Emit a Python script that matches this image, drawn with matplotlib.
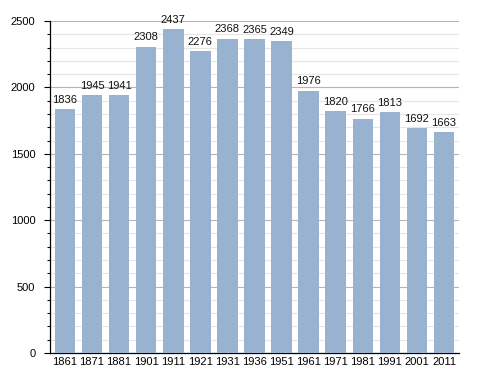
import matplotlib
matplotlib.use('Agg')
import matplotlib.pyplot as plt
import numpy as np

years = ['1861', '1871', '1881', '1901', '1911', '1921', '1931', '1936',
         '1951', '1961', '1971', '1981', '1991', '2001', '2011']
population = [1836, 1945, 1941, 2308, 2437, 2276, 2368, 2365,
              2349, 1976, 1820, 1766, 1813, 1692, 1663]

plt.rcParams['font.family'] = ['Liberation Sans', 'DejaVu Sans']

fig = plt.figure(figsize=(4.88, 3.73), dpi=100)
ax = fig.add_axes([0.1025, 0.0536, 0.838, 0.89])

x = np.arange(len(years))
ax.bar(x, population, width=0.76, color='#98b2cf', zorder=3)
for xi, v in zip(x, population):
    ax.annotate(str(v), (xi, v), xytext=(0, 3), textcoords='offset points',
                ha='center', va='bottom', fontsize=8, color='#111111')

ax.set_xlim(-0.55, len(years) - 0.45)
ax.set_ylim(0, 2500)
ax.set_xticks(x)
ax.set_xticklabels(years, fontsize=8)
ax.set_yticks(range(0, 2501, 500))
ax.set_yticks(range(0, 2501, 100), minor=True)
ax.tick_params(axis='y', labelsize=8, length=4.5, width=0.8, pad=6)
ax.tick_params(axis='y', which='minor', length=2, width=0.8)
ax.tick_params(axis='x', length=0, pad=3)

ax.grid(axis='y', which='minor', color='#e6e6e6', lw=0.8, zorder=0)
ax.grid(axis='y', which='major', color='#b5b5b5', lw=0.8, zorder=0)
for s in ['top', 'right']:
    ax.spines[s].set_visible(False)
ax.spines['left'].set_linewidth(0.9)
ax.spines['bottom'].set_linewidth(0.9)

fig.savefig('out.png', dpi=100)
